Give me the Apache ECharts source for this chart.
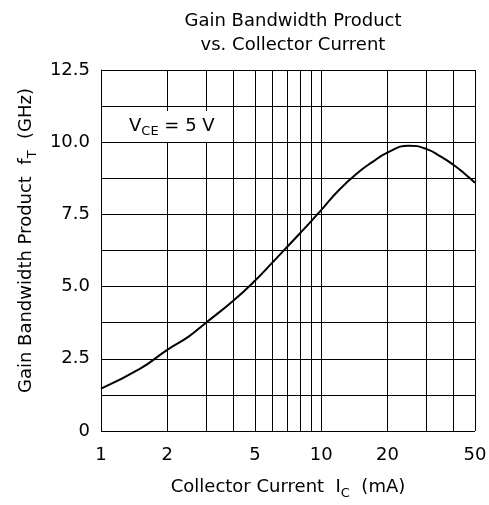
<!DOCTYPE html>
<html><head><meta charset="utf-8">
<script src="https://cdn.jsdelivr.net/npm/echarts@6/dist/echarts.min.js"></script>
<style>html,body{margin:0;padding:0;background:#fff}#c{width:489px;height:505px}</style>
</head><body><div id="c"></div>
<script>
// Data
const currentMA = [1, 1.5, 2, 2.5, 3, 4, 5, 6, 7, 8, 9, 10, 12, 15, 17, 20, 25, 30, 35, 40, 45, 50];
const ftGHz    = [1.47, 2.15, 2.81, 3.27, 3.75, 4.52, 5.2, 5.83, 6.37, 6.84, 7.26, 7.65, 8.33, 9.0, 9.3, 9.64, 9.88, 9.77, 9.5, 9.21, 8.9, 8.6];
const xGridValues = [1, 2, 3, 4, 5, 6, 7, 8, 9, 10, 20, 30, 40, 50];
const xTickLabels = [1, 2, 5, 10, 20, 50];

const FONT = 'DejaVu Sans';
const chart = echarts.init(document.getElementById('c'), null, {renderer: 'canvas'});
chart.setOption({
  animation: false,
  backgroundColor: '#fff',
  textStyle: {fontFamily: FONT, color: '#000'},
  title: {
    text: 'Gain Bandwidth Product\nvs. Collector Current',
    left: 288, top: 4, textAlign: 'center',
    textStyle: {fontFamily: FONT, fontSize: 18, fontWeight: 'normal', color: '#000', lineHeight: 24}
  },
  grid: {left: 101, right: 14, top: 70, bottom: 65, containLabel: false},
  xAxis: {
    type: 'log', logBase: 10, min: 1, max: 50,
    axisLine: {show: false}, axisTick: {show: false}, axisLabel: {show: false},
    splitLine: {show: false}, minorSplitLine: {show: false},
    name: '{a|Collector Current  I}{s|C}{a|  (mA)}',
    nameLocation: 'middle', nameGap: 44,
    nameTextStyle: {
      rich: {
        a: {fontFamily: FONT, fontSize: 18, color: '#000'},
        s: {fontFamily: FONT, fontSize: 13, color: '#000', verticalAlign: 'bottom', padding: [12, 0, 0, 0]}
      }
    }
  },
  yAxis: {
    type: 'value', min: 0, max: 12.5, interval: 2.5,
    axisLine: {show: true, lineStyle: {color: '#000', width: 1}},
    axisTick: {show: false},
    axisLabel: {
      fontFamily: FONT, fontSize: 18, color: '#000', margin: 11,
      formatter: v => (v === 0 ? '0' : v.toFixed(1))
    },
    splitLine: {show: true, lineStyle: {color: '#000', width: 1}},
    minorTick: {show: false, splitNumber: 2},
    minorSplitLine: {show: true, lineStyle: {color: '#000', width: 1}},
    name: '{a|Gain Bandwidth Product  f}{s|T}{a|  (GHz)}',
    nameLocation: 'middle', nameGap: 57, nameRotate: 90,
    nameTextStyle: {
      padding: [0, 0, 0, 20],
      rich: {
        a: {fontFamily: FONT, fontSize: 18, color: '#000'},
        s: {fontFamily: FONT, fontSize: 13, color: '#000', verticalAlign: 'bottom', padding: [12, 0, 0, 0]}
      }
    }
  },
  series: [{
    type: 'line',
    data: currentMA.map((x, i) => [x, ftGHz[i]]),
    smooth: 0.5,
    showSymbol: false,
    lineStyle: {color: '#000', width: 2},
    z: 5,
    markLine: {
      silent: true, symbol: 'none', animation: false,
      lineStyle: {color: '#000', width: 1, type: 'solid'},
      label: {
        show: true, position: 'start', distance: 15,
        fontFamily: FONT, fontSize: 18, color: '#000',
        formatter: p => (xTickLabels.indexOf(p.value) >= 0 ? String(p.value) : '')
      },
      emphasis: {disabled: true},
      data: xGridValues.map(v => ({xAxis: v}))
    }
  }],
  graphic: [{
    type: 'text', left: 123, top: 111, z: 100,
    style: {
      rich: {
        a: {fontFamily: FONT, fontSize: 18, fill: '#000'},
        s: {fontFamily: FONT, fontSize: 13, fill: '#000', padding: [10, 0, 0, 0]}
      },
      text: '{a|V}{s|CE}{a| = 5 V}',
      backgroundColor: '#fff',
      padding: [4, 6, 4, 6]
    }
  }]
});
</script></body></html>
